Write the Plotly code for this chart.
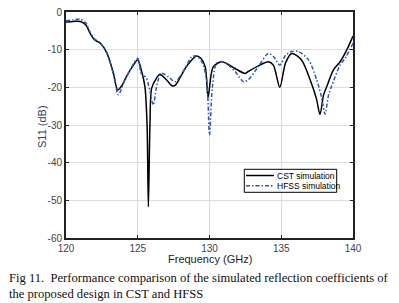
import plotly.graph_objects as go

cst_freq = [120, 120.5, 121, 121.4, 121.67, 122, 122.4, 122.85, 123.3, 123.6, 123.9, 124.2, 124.7, 125.0,
            125.27, 125.5, 125.65, 125.74, 125.85, 125.97, 126.3, 126.55, 127.0, 127.4, 127.6, 128.3, 128.7,
            129.1, 129.4, 129.7, 129.9, 130.1, 130.27, 130.85, 131.78, 132.47, 132.7, 133.5, 134.1, 134.45,
            134.9, 135.3, 135.73, 136.4, 137.1, 137.45, 137.7, 137.95, 138.17, 138.63, 139.1, 139.56, 140]
cst_s11 = [-2.65, -2.5, -2.5, -3.5, -5.6, -7.4, -8.3, -10.9, -16.2, -20.7, -19.5, -17.2, -14.1, -12.7,
           -15.8, -19.8, -30, -51.7, -30, -20.2, -17.6, -16.5, -18, -19.6, -19.5, -15, -13,
           -11.7, -12.3, -14.5, -22.7, -17, -14.5, -13.2, -15, -16.3, -15.8, -14.1, -13.2, -14.1,
           -20, -13.5, -11, -12.7, -18.9, -23, -27.2, -22, -19.8, -15.4, -13.2, -10.1, -6.4]

hfss_freq = [120, 120.5, 121, 121.4, 121.67, 122, 122.4, 122.85, 123.3, 123.65, 124.0, 124.2, 124.7, 125.0,
             125.27, 125.45, 125.6, 125.85, 126.08, 126.3, 126.43, 126.67, 127.13, 127.6, 128.3, 128.76,
             129.1, 129.5, 129.8, 130.0, 130.2, 130.5, 130.96, 131.78, 132.36, 132.7, 133.4, 134.1, 134.5,
             134.9, 135.3, 135.7, 136.2, 136.9, 137.47, 137.8, 138.05, 138.3, 138.5, 139.1, 139.5, 140]
hfss_s11 = [-2.3, -2.1, -1.9, -3.0, -5.3, -7.2, -8.3, -10.8, -16.5, -22, -19, -17.3, -13.8, -12.3,
            -16.7, -17.0, -17.5, -21, -24.7, -20, -18, -16.3, -17.2, -18.5, -15, -11.9,
            -11.7, -13.5, -18, -32.7, -20, -13.6, -13.2, -15.8, -18.5, -18, -14.5, -11, -12,
            -14.1, -11.5, -10.5, -10.5, -12.7, -18, -22.5, -27.1, -22, -19.8, -14.1, -12, -8.3]

x_ticks = [120, 125, 130, 135, 140]
y_ticks = [0, -10, -20, -30, -40, -50, -60]
series_names = ["CST simulation", "HFSS simulation"]
series_colors = ["black", "#3355b5"]
series_dash = ["solid", "4px,2px,1.5px,2px"]

OFF = 8  # default page body margin
PAGE_W, PAGE_H = 399, 303
W, H = PAGE_W - OFF, PAGE_H - OFF
# plot area in page pixels
PL, PR, PT, PB = 66, 353, 12, 238
L, T = PL - OFF, PT - OFF
R, B = OFF + W - PR, OFF + H - PB
PW, PH = PR - PL, PB - PT


def px(x):
    return (x - PL) / PW


def py(y):
    return (PB - y) / PH


fig = go.Figure()
fig.add_trace(go.Scatter(x=cst_freq, y=cst_s11, mode="lines", name=series_names[0],
                         line=dict(color=series_colors[0], width=1.5, dash=series_dash[0],
                                   shape="spline", smoothing=0.8)))
fig.add_trace(go.Scatter(x=hfss_freq, y=hfss_s11, mode="lines", name=series_names[1],
                         line=dict(color=series_colors[1], width=1.5, dash=series_dash[1],
                                   shape="spline", smoothing=0.8)))

axis_common = dict(showline=True, linecolor="#222222", linewidth=2, mirror="ticks",
                   ticks="inside", ticklen=3, tickcolor="#222222", showgrid=True,
                   gridcolor="#dddddd", gridwidth=1, zeroline=False, automargin=False,
                   ticklabeloverflow="allow",
                   tickfont=dict(family="Liberation Sans, Arial", size=10, color="#444444"))

fig.update_xaxes(range=[120, 140], tickvals=x_ticks, ticktext=[str(v) for v in x_ticks], **axis_common)
fig.update_yaxes(range=[-60, 0], tickvals=y_ticks, ticktext=[str(v) for v in y_ticks], **axis_common)

fig.update_layout(
    width=W, height=H,
    margin=dict(l=L, r=R, t=T, b=B),
    paper_bgcolor="white", plot_bgcolor="white",
    showlegend=False,
)

# axis titles
fig.add_annotation(text="Frequency (GHz)", xref="paper", yref="paper", x=px(209.5), y=py(259),
                   xanchor="center", yanchor="middle", showarrow=False,
                   font=dict(family="Liberation Sans, Arial", size=11, color="#222222"))
fig.add_annotation(text="S11 (dB)", xref="paper", yref="paper", x=px(42), y=py(127),
                   xanchor="center", yanchor="middle", showarrow=False, textangle=-90,
                   font=dict(family="Liberation Sans, Arial", size=11, color="#334455"))

# legend box
fig.add_shape(type="rect", xref="paper", yref="paper", x0=px(244.3), x1=px(336.7), y0=py(192.3), y1=py(169.3),
              line=dict(color="black", width=1), fillcolor="white", layer="above")
for i, (nm, col, ds) in enumerate(zip(series_names, series_colors, series_dash)):
    yy = 175.5 + i * 10.3
    fig.add_shape(type="line", xref="paper", yref="paper", x0=px(246), x1=px(274), y0=py(yy), y1=py(yy),
                  line=dict(color=col, width=1.5, dash=ds), layer="above")
    fig.add_annotation(text=nm, xref="paper", yref="paper", x=px(274.5), y=py(yy),
                       xanchor="left", yanchor="middle", showarrow=False,
                       font=dict(family="Liberation Sans, Arial", size=8.5, color="black"))

fig.add_annotation(text="Fig 11.  Performance comparison of the simulated reflection coefficients of<br>the proposed design in CST and HFSS",
                   xref="paper", yref="paper", x=px(7), y=py(269), xanchor="left", yanchor="top",
                   align="left", showarrow=False,
                   font=dict(family="Liberation Serif, Times New Roman", size=12.6, color="#111111"))

fig.write_html("out.html")
